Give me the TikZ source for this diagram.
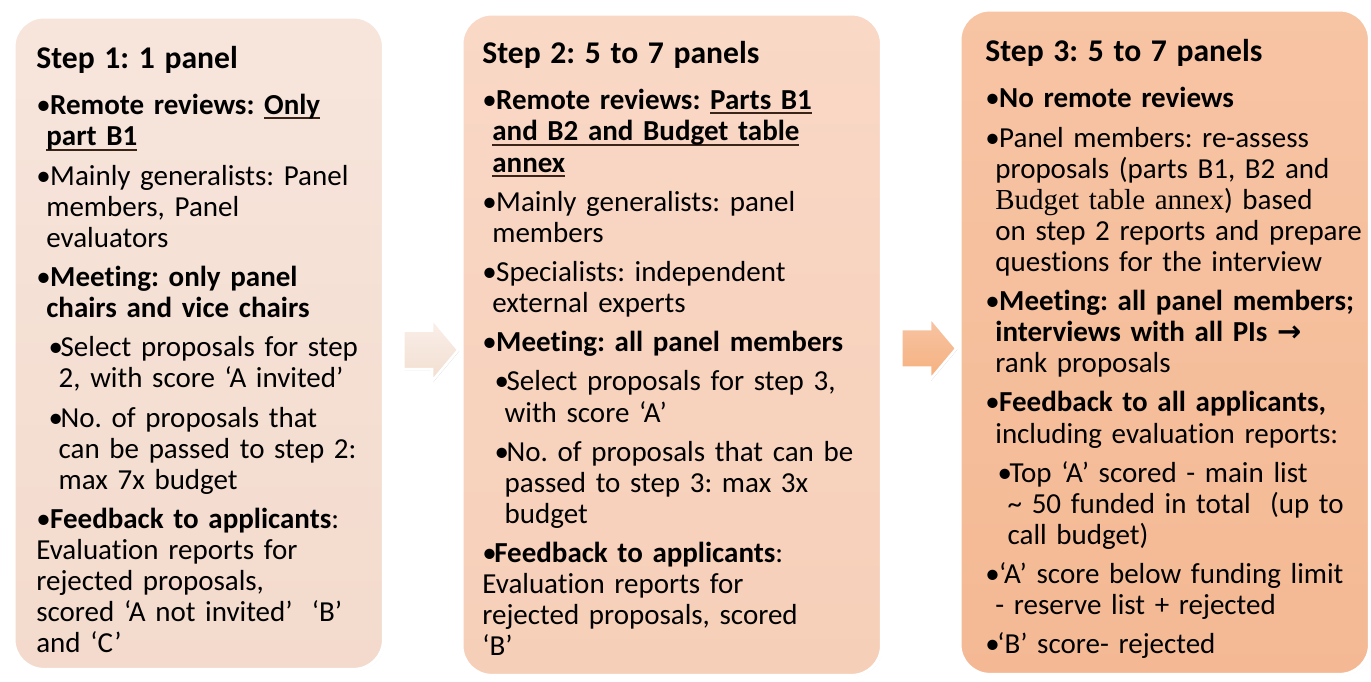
\documentclass[tikz,border=0pt]{standalone}
\usepackage{fontspec}
\setmainfont{Carlito}[Ligatures={TeX,NoCommon}]
\newfontfamily\budgetfont{Liberation Serif}
\newfontfamily\arrowfont{DejaVu Sans}
\usepackage{tikz}
\usetikzlibrary{calc,positioning,shapes.arrows,shadows}
\definecolor{steponetop}{HTML}{F7E5DC}
\definecolor{steponebot}{HTML}{F3DACC}
\definecolor{steptwotop}{HTML}{F9D8C6}
\definecolor{steptwobot}{HTML}{F6CFB8}
\definecolor{stepthrtop}{HTML}{F7C4A4}
\definecolor{stepthrbot}{HTML}{F4B994}
\definecolor{ulbrown}{HTML}{3A2418}
\frenchspacing

% bullet lists inside the step boxes
\newcommand{\steptitle}[1]{{\fontsize{18}{20}\selectfont\bfseries #1\par}\vspace{3.8pt}}
\newcommand{\stepitem}[1]{\par\vspace{4.6pt}\leftskip=0pt\hangindent=5.7pt\hangafter=1\noindent\makebox[7.9pt][l]{•}#1}
\newcommand{\substep}[1]{\par\vspace{4.6pt}\leftskip=7pt\hangindent=5.7pt\hangafter=1\noindent\makebox[6.8pt][l]{•}#1}
\newcommand{\stepul}[1]{\setbox0\hbox{#1}\rlap{\color{ulbrown}\rule[-2.6pt]{\wd0}{1.1pt}}\box0}

\begin{document}
\begin{tikzpicture}[x=0.02cm, y=-0.02cm,
  stepbox/.style={draw=white, line width=2pt, rounded corners=0.6cm,
                  anchor=north west, inner sep=0pt,
                  drop shadow={shadow xshift=0.6pt, shadow yshift=-0.6pt, opacity=0.4}},
  steptext/.style={anchor=base west, text width=9cm, align=left, inner sep=0pt,
                   font=\fontsize{16.5}{17.7}\selectfont\frenchspacing},
  steparrow/.style={single arrow, draw=white, line width=1.5pt,
                    inner xsep=0pt, inner ysep=0.36cm, minimum height=1.1cm,
                    single arrow head extend=0.24cm, single arrow tip angle=100,
                    drop shadow={shadow xshift=0.6pt, shadow yshift=-0.6pt, opacity=0.4}}]
\useasboundingbox (0,0) rectangle (1371,682);

\node[stepbox, top color=steponetop, bottom color=steponebot,
      minimum width=7.4cm, minimum height=13.06cm] (s1) at (12,15) {};
\node[stepbox, top color=steptwotop, bottom color=steptwobot,
      minimum width=8.4cm, minimum height=13.24cm] (s2) at (460,12) {};
\node[stepbox, top color=stepthrtop, bottom color=stepthrbot,
      minimum width=8.2cm, minimum height=13.3cm] (s3) at (958,8) {};

\node[steparrow, top color=white!40!steponetop, bottom color=steponebot!80!brown!60]
  (a12) at ($(s1.east)!0.5!(s2.west)$) [yshift=-0.12cm] {};
\node[steparrow, top color=stepthrtop, bottom color=stepthrbot!85!orange]
  (a23) at ($(s2.east)!0.5!(s3.west)$) [yshift=-0.1cm] {};

\node[steptext] (t1) at ([shift={(0.48cm,-1.08cm)}]s1.north west) {%
\steptitle{Step 1: 1 panel}
\stepitem{\textbf{Remote reviews: \stepul{Only}}\newline\textbf{\stepul{part B1}}}
\stepitem{Mainly generalists: Panel\newline members, Panel\newline evaluators}
\stepitem{\textbf{Meeting: only panel}\newline\textbf{chairs and vice chairs}}
\substep{Select proposals for step\newline 2, with score ‘A invited’}
\substep{No. of proposals that\newline can be passed to step 2:\newline max 7x budget}
\stepitem{\textbf{Feedback to applicants}:\newline Evaluation reports for\newline rejected proposals,\newline scored ‘A not invited’\ \ ‘B’\newline and ‘C’}};

\node[steptext] (t2) at ([shift={(0.44cm,-1.04cm)}]s2.north west) {%
\steptitle{Step 2: 5 to 7 panels}
\stepitem{\textbf{Remote reviews: \stepul{Parts B1}}\newline\textbf{\stepul{and B2 and Budget table}}\newline\textbf{\stepul{annex}}}
\stepitem{Mainly generalists: panel\newline members}
\stepitem{Specialists: independent\newline external experts}
\stepitem{\textbf{Meeting: all panel members}}
\substep{Select proposals for step 3,\newline with score ‘A’}
\substep{No. of proposals that can be\newline passed to step 3: max 3x\newline budget}
\substep{\textbf{Feedback to applicants}:\newline Evaluation reports for\newline rejected proposals, scored\newline ‘B’}};

\node[steptext] (t3) at ([shift={(0.54cm,-1.08cm)}]s3.north west) {%
\steptitle{Step 3: 5 to 7 panels}
\stepitem{\textbf{No remote reviews}}
\stepitem{Panel members: re-assess\newline proposals (parts B1, B2 and\newline {\budgetfont Budget table annex}) based\newline on step 2 reports and prepare\newline questions for the interview}
\stepitem{\textbf{Meeting: all panel members;}\newline\textbf{interviews with all PIs} {\arrowfont\bfseries →}\newline rank proposals}
\stepitem{\textbf{Feedback to all applicants,}\newline including evaluation reports:}
\substep{Top ‘A’ scored - main list\newline \textasciitilde\ 50 funded in total\ \ (up to\newline call budget)}
\stepitem{‘A’ score below funding limit\newline - reserve list + rejected}
\substep{‘B’ score- rejected}};
\end{tikzpicture}
\end{document}
